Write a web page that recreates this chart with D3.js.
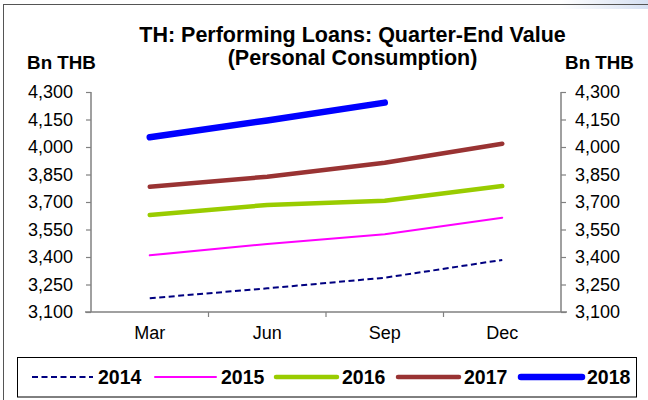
<!DOCTYPE html>
<html>
<head>
<meta charset="utf-8">
<script src="https://cdn.jsdelivr.net/npm/d3@7"></script>
<style>
  html, body { margin: 0; padding: 0; background: #fff; }
  svg { display: block; font-family: Arial, "Liberation Sans", Helvetica, sans-serif; }
</style>
</head>
<body>
<svg id="chart" width="648" height="400"></svg>
<script>
// Quarter-end performing loans for personal consumption, Bn THB
const quarters = ["Mar", "Jun", "Sep", "Dec"];
const years = ["2014", "2015", "2016", "2017", "2018"];
const v2014 = [3175, 3229, 3287, 3384];
const v2015 = [3409, 3471, 3524, 3614];
const v2016 = [3629, 3684, 3707, 3787];
const v2017 = [3783, 3838, 3914, 4018];
const v2018 = [4053, 4145, 4242];
const yTicks = [3100, 3250, 3400, 3550, 3700, 3850, 4000, 4150, 4300];

const seriesStyle = {
  "2014": { color: "#000080", width: 2, dash: "6,3.5" },
  "2015": { color: "#FF00FF", width: 2, dash: null },
  "2016": { color: "#99CC00", width: 4.5, dash: null },
  "2017": { color: "#993333", width: 4.5, dash: null },
  "2018": { color: "#0000FF", width: 6.5, dash: null }
};
const seriesValues = { "2014": v2014, "2015": v2015, "2016": v2016, "2017": v2017, "2018": v2018 };

const FONT = "Arial, 'Liberation Sans', Helvetica, sans-serif";
const svg = d3.select("#chart");
const plot = { left: 91, right: 561, top: 92, bottom: 312 };

// soft shading at the top-right corner of the frame
const defs = svg.append("defs");
const grad = defs.append("linearGradient").attr("id", "corner").attr("x1", 0).attr("x2", 1).attr("y1", 0).attr("y2", 0);
grad.append("stop").attr("offset", "0%").attr("stop-color", "#ffffff");
grad.append("stop").attr("offset", "100%").attr("stop-color", "#d6e0f2");
svg.append("rect").attr("x", 560).attr("y", 0).attr("width", 88).attr("height", 9).attr("fill", "url(#corner)");

// outer frame
svg.append("rect")
  .attr("x", 3.5).attr("y", 4.5).attr("width", 700).attr("height", 420)
  .attr("fill", "none").attr("stroke", "#555").attr("stroke-width", 1);

const x = d3.scaleBand().domain(quarters).range([plot.left, plot.right]);
const y = d3.scaleLinear().domain([3100, 4300]).range([plot.bottom, plot.top]);

const fmt = d3.format(",");
const axisColor = "#808080";

// left and right value axes
const gl = svg.append("g").attr("transform", `translate(${plot.left},0)`)
  .call(d3.axisLeft(y).tickValues(yTicks).tickFormat(fmt).tickSize(5).tickPadding(13));
const gr = svg.append("g").attr("transform", `translate(${plot.right},0)`)
  .call(d3.axisRight(y).tickValues(yTicks).tickFormat(fmt).tickSize(5).tickPadding(9));
[gl, gr].forEach(g => {
  g.attr("font-size", null).attr("font-family", null);
  g.select(".domain").attr("stroke", axisColor).attr("stroke-width", 1.5).attr("d", `M0,${plot.top}V${plot.bottom}`);
  g.selectAll(".tick line").attr("stroke", axisColor).attr("stroke-width", 1.2);
  g.selectAll(".tick text").style("font-size", "18px").style("font-family", FONT).attr("fill", "#000");
});

// category axis
const gb = svg.append("g").attr("transform", `translate(0,${plot.bottom})`)
  .call(d3.axisBottom(x).tickSize(0).tickPadding(14));
gb.attr("font-size", null).attr("font-family", null);
gb.select(".domain").attr("stroke", axisColor).attr("stroke-width", 1.5)
  .attr("d", `M${plot.left - 6},0H${plot.right + 6}`);
gb.selectAll(".tick text").style("font-size", "18px").style("font-family", FONT).attr("fill", "#000");
// band boundary ticks
gb.selectAll("line.sep").data(quarters.slice(1)).enter().append("line")
  .attr("class", "sep")
  .attr("x1", d => x(d)).attr("x2", d => x(d))
  .attr("y1", 0).attr("y2", 5)
  .attr("stroke", axisColor).attr("stroke-width", 1.2);

// series lines
const line = d3.line()
  .x((d, i) => x(quarters[i]) + x.bandwidth() / 2)
  .y(d => y(d));

years.forEach(yr => {
  const s = seriesStyle[yr];
  svg.append("path")
    .datum(seriesValues[yr])
    .attr("d", line)
    .attr("fill", "none")
    .attr("stroke", s.color)
    .attr("stroke-width", s.width)
    .attr("stroke-linecap", s.dash ? "butt" : "round")
    .attr("stroke-linejoin", "round")
    .attr("stroke-dasharray", s.dash);
});

// titles
const title = svg.append("text")
  .attr("text-anchor", "middle")
  .style("font-weight", "bold")
  .style("font-size", "21.5px")
  .style("font-family", FONT)
  .attr("fill", "#000");
title.append("tspan").attr("x", 352.5).attr("y", 42).text("TH: Performing Loans: Quarter-End Value");
title.append("tspan").attr("x", 352.5).attr("y", 65).text("(Personal Consumption)");

[61.5, 599.5].forEach(cx => {
  svg.append("text").attr("x", cx).attr("y", 69).attr("text-anchor", "middle")
    .style("font-weight", "bold").style("font-size", "18.8px").style("font-family", FONT)
    .text("Bn THB");
});

// legend
const legend = svg.append("g");
legend.append("rect")
  .attr("x", 17.5).attr("y", 357.5).attr("width", 619).attr("height", 39.5)
  .attr("fill", "#fff").attr("stroke", "#000").attr("stroke-width", 1);
const legendX = [32, 155, 276, 398, 521];
years.forEach((yr, i) => {
  const s = seriesStyle[yr];
  const g = legend.append("g").attr("transform", `translate(${legendX[i]},377)`);
  g.append("line")
    .attr("x1", 0).attr("x2", 61).attr("y1", 0).attr("y2", 0)
    .attr("stroke", s.color).attr("stroke-width", s.width)
    .attr("stroke-linecap", s.dash ? "butt" : "round")
    .attr("stroke-dasharray", s.dash);
  g.append("text").attr("x", 66).attr("y", 6.5)
    .style("font-weight", "bold").style("font-size", "19.5px").style("font-family", FONT)
    .text(yr);
});
</script>
</body>
</html>
